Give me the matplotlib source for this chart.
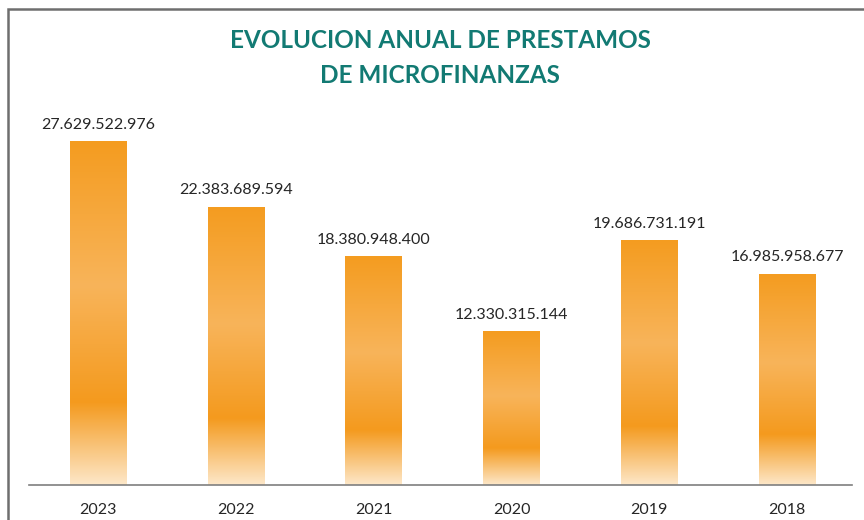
import numpy as np
import matplotlib.pyplot as plt
from matplotlib.colors import LinearSegmentedColormap
from matplotlib.patches import Rectangle

years = ['2023', '2022', '2021', '2020', '2019', '2018']
prestamos = [27629522976, 22383689594, 18380948400, 12330315144, 19686731191, 16985958677]
etiquetas = ['27.629.522.976', '22.383.689.594', '18.380.948.400',
             '12.330.315.144', '19.686.731.191', '16.985.958.677']

plt.rcParams['font.family'] = ['Lato', 'DejaVu Sans']

# gradient from top (0) to bottom (1) of each bar
grad = LinearSegmentedColormap.from_list('naranja', [
    (0.0, '#F49C20'),
    (0.42, '#F8B45A'),
    (0.76, '#F49A1E'),
    (1.0, '#FDE7C8'),
])

fig = plt.figure(figsize=(8.64, 5.20), dpi=100)
ax = fig.add_axes([29 / 864, 35 / 520, 823 / 864, 385 / 520])

x = np.arange(len(years))
bars = ax.bar(x, prestamos, width=0.41, color='none')

img = np.linspace(0, 1, 256).reshape(-1, 1)
for b in bars:
    x0, w, h = b.get_x(), b.get_width(), b.get_height()
    ax.imshow(img, cmap=grad, aspect='auto', extent=(x0, x0 + w, 0, h),
              origin='upper', zorder=2)

for xi, v, lab in zip(x, prestamos, etiquetas):
    ax.annotate(lab, (xi, v), xytext=(0, 7), textcoords='offset points',
                ha='center', va='bottom', fontsize=11.5, color='#262626')

ax.set_xlim(-0.5, 5.47)
ax.set_ylim(0, 31.0e9)
ax.set_xticks(x)
ax.set_xticklabels(years, fontsize=11.5, color='#262626')
ax.tick_params(axis='x', length=0, pad=13)
ax.set_yticks([])
for s in ['top', 'right', 'left']:
    ax.spines[s].set_visible(False)
ax.spines['bottom'].set_color('#7F7F7F')
ax.spines['bottom'].set_linewidth(1.2)

fig.text(440 / 864, 1 - 58 / 520, 'EVOLUCION ANUAL DE PRESTAMOS\nDE MICROFINANZAS',
         ha='center', va='center', fontsize=17.5, fontweight='bold',
         color='#127A73', linespacing=1.6)

# frame of the slide
fig.add_artist(Rectangle((8 / 864, -0.1), 1.2, 1 - 9 / 520 + 0.1,
                         transform=fig.transFigure, fill=False,
                         edgecolor='#6E6E6E', linewidth=1.8))

fig.savefig('out.png', dpi=100)
